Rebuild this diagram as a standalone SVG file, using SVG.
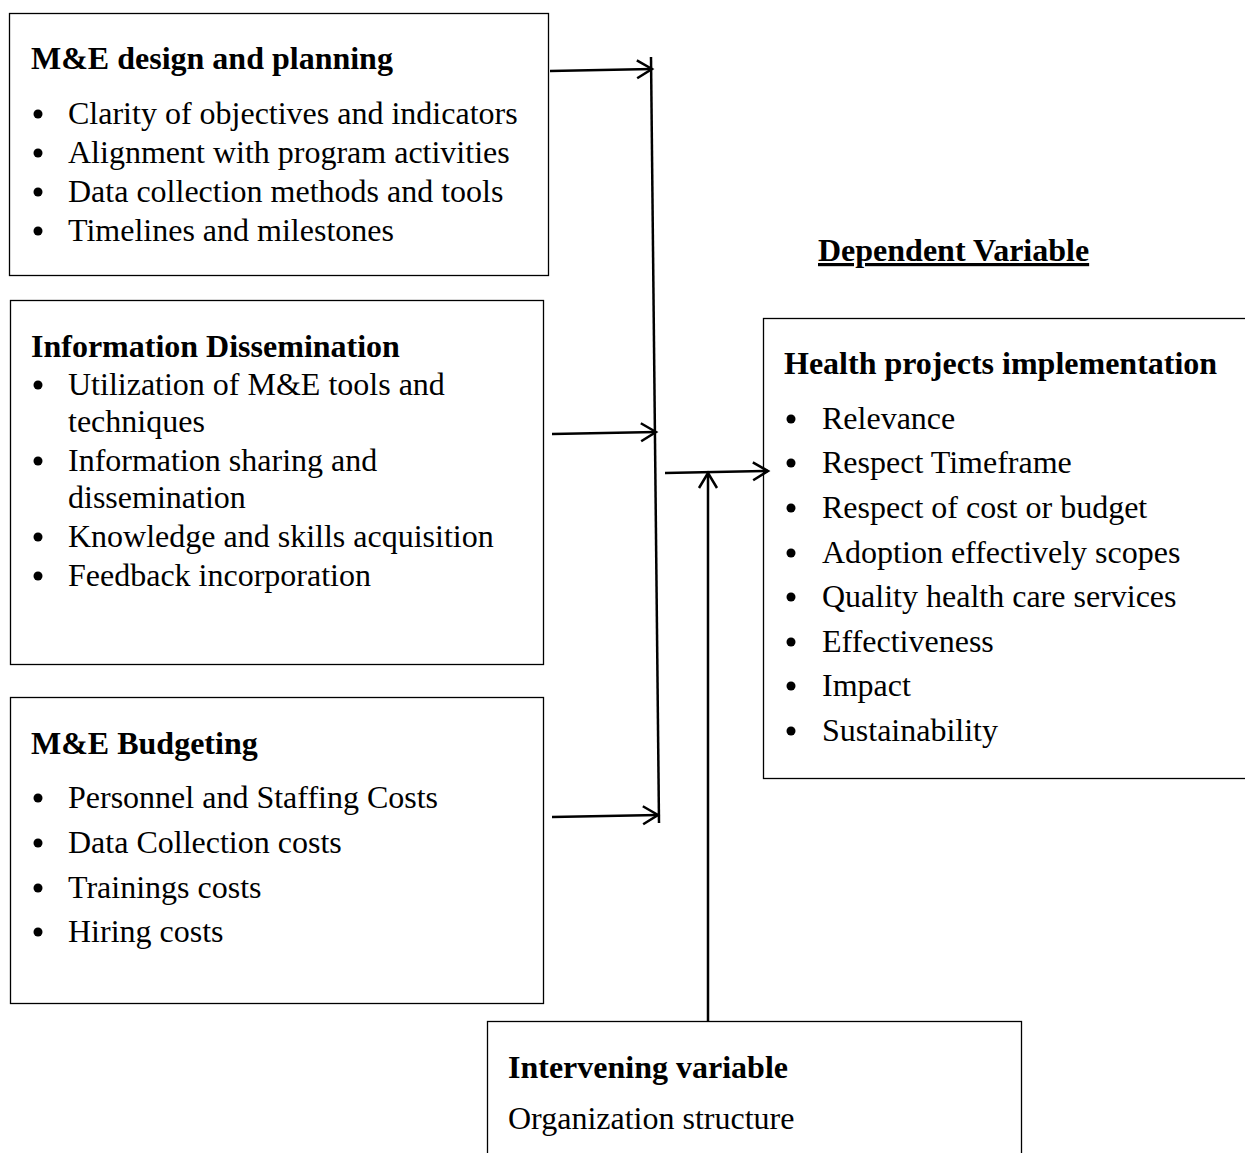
<svg xmlns="http://www.w3.org/2000/svg" width="1245" height="1153" viewBox="0 0 1245 1153">
<style>
.box{fill:#fff;stroke:#000;stroke-width:1.3}
text{font-family:"Liberation Serif","Times New Roman",serif;font-size:32px;fill:#000}
.t{font-weight:bold}
.c{fill:none;stroke:#000;stroke-width:2.5}
.dot{fill:#000}
</style>
<defs>
<marker id="ah" markerWidth="22" markerHeight="22" refX="19" refY="11" orient="auto" markerUnits="userSpaceOnUse">
<path d="M4,2 L19,11 L4,20" fill="none" stroke="#000" stroke-width="2.5"/>
</marker>
</defs>
<rect width="1245" height="1153" fill="#fff"/>
<g id="node-design">
<rect class="box" x="9.5" y="13.5" width="539" height="262"/>
<text class="t" x="31" y="69">M&amp;E design and planning</text>
<circle class="dot" cx="38" cy="114" r="4.5"/><text x="68" y="124">Clarity of objectives and indicators</text>
<circle class="dot" cx="38" cy="153" r="4.5"/><text x="68" y="163">Alignment with program activities</text>
<circle class="dot" cx="38" cy="192" r="4.5"/><text x="68" y="202">Data collection methods and tools</text>
<circle class="dot" cx="38" cy="231" r="4.5"/><text x="68" y="241">Timelines and milestones</text>
</g>
<g id="node-info">
<rect class="box" x="10.5" y="300.5" width="533" height="364"/>
<text class="t" x="31" y="357">Information Dissemination</text>
<circle class="dot" cx="38" cy="385" r="4.5"/><text x="68" y="395">Utilization of M&amp;E tools and</text>
<text x="68" y="432">techniques</text>
<circle class="dot" cx="38" cy="461" r="4.5"/><text x="68" y="471">Information sharing and</text>
<text x="68" y="508">dissemination</text>
<circle class="dot" cx="38" cy="537" r="4.5"/><text x="68" y="547">Knowledge and skills acquisition</text>
<circle class="dot" cx="38" cy="576" r="4.5"/><text x="68" y="586">Feedback incorporation</text>
</g>
<g id="node-budget">
<rect class="box" x="10.5" y="697.5" width="533" height="306"/>
<text class="t" x="31" y="754">M&amp;E Budgeting</text>
<circle class="dot" cx="38" cy="798" r="4.5"/><text x="68" y="808">Personnel and Staffing Costs</text>
<circle class="dot" cx="38" cy="843" r="4.5"/><text x="68" y="853">Data Collection costs</text>
<circle class="dot" cx="38" cy="888" r="4.5"/><text x="68" y="898">Trainings costs</text>
<circle class="dot" cx="38" cy="932" r="4.5"/><text x="68" y="942">Hiring costs</text>
</g>
<g id="label-dependent">
<text class="t" x="818" y="261" text-decoration="underline">Dependent Variable</text>
</g>
<g id="node-health">
<rect class="box" x="763.5" y="318.5" width="490" height="460"/>
<text class="t" x="784" y="374">Health projects implementation</text>
<circle class="dot" cx="791" cy="419" r="4.5"/><text x="822" y="429">Relevance</text>
<circle class="dot" cx="791" cy="463" r="4.5"/><text x="822" y="473">Respect Timeframe</text>
<circle class="dot" cx="791" cy="508" r="4.5"/><text x="822" y="518">Respect of cost or budget</text>
<circle class="dot" cx="791" cy="553" r="4.5"/><text x="822" y="563">Adoption effectively scopes</text>
<circle class="dot" cx="791" cy="597" r="4.5"/><text x="822" y="607">Quality health care services</text>
<circle class="dot" cx="791" cy="642" r="4.5"/><text x="822" y="652">Effectiveness</text>
<circle class="dot" cx="791" cy="686" r="4.5"/><text x="822" y="696">Impact</text>
<circle class="dot" cx="791" cy="731" r="4.5"/><text x="822" y="741">Sustainability</text>
</g>
<g id="node-intervening">
<rect class="box" x="487.5" y="1021.5" width="534" height="140"/>
<text class="t" x="508" y="1078">Intervening variable</text>
<text x="508" y="1129">Organization structure</text>
</g>
<g id="connectors">
<line class="c" x1="651" y1="57" x2="659" y2="823"/>
<line class="c" x1="550" y1="71" x2="652" y2="69" marker-end="url(#ah)"/>
<line class="c" x1="552" y1="434" x2="656" y2="432" marker-end="url(#ah)"/>
<line class="c" x1="552" y1="817" x2="658" y2="815" marker-end="url(#ah)"/>
<line class="c" x1="665" y1="473" x2="768" y2="471" marker-end="url(#ah)"/>
<line class="c" x1="708" y1="1021" x2="708" y2="473" marker-end="url(#ah)"/>
</g>
</svg>
